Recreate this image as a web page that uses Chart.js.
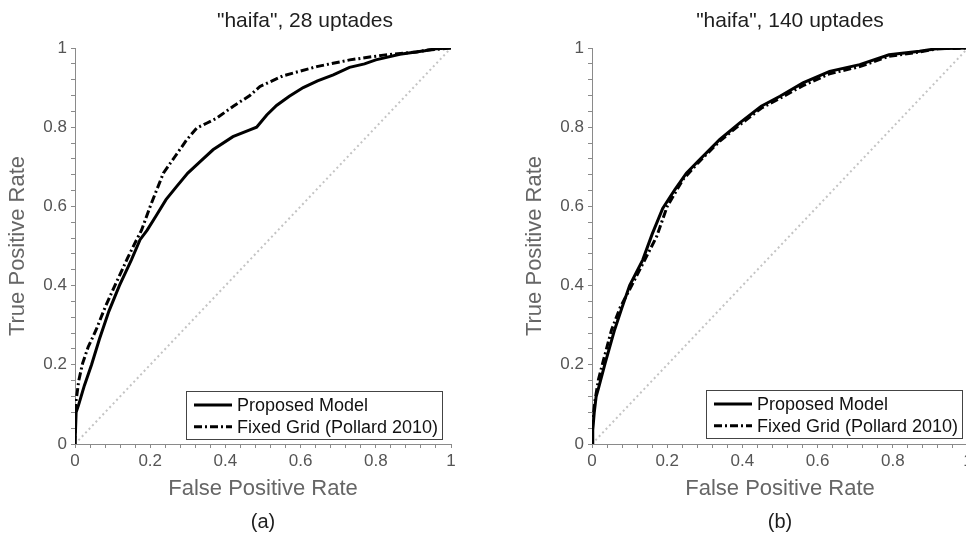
<!DOCTYPE html>
<html>
  <head>
    <title>ROC curves - haifa</title>
    <script src="https://cdn.jsdelivr.net/npm/chart.js"></script>
    <style>
      body {
        margin: 0;
        background: #ffffff;
        overflow: hidden;
      }
      #page {
        position: relative;
        width: 966px;
        height: 535px;
        overflow: hidden;
      }
      .panel {
        position: absolute;
        top: 0;
        width: 483px;
        height: 535px;
      }
    </style>
  </head>
  <body>
    <div id="page">
      <div class="panel" style="left: 0px"><canvas id="leftChart"></canvas></div>
      <div class="panel" style="left: 517px"><canvas id="rightChart"></canvas></div>
    </div>

    <script>
      // (a) 28 updates
      const leftModelFpr = [0, 0.003, 0.01, 0.025, 0.044, 0.065, 0.09, 0.118, 0.15, 0.173, 0.192, 0.215, 0.242, 0.27, 0.30, 0.335, 0.367, 0.42, 0.465, 0.483, 0.51, 0.536, 0.57, 0.607, 0.645, 0.687, 0.73, 0.77, 0.80, 0.864, 0.93, 0.96, 1.0];
      const leftModelTpr = [0, 0.08, 0.10, 0.148, 0.2, 0.265, 0.335, 0.40, 0.465, 0.516, 0.54, 0.575, 0.617, 0.65, 0.684, 0.715, 0.743, 0.776, 0.793, 0.80, 0.831, 0.855, 0.878, 0.90, 0.917, 0.932, 0.951, 0.96, 0.97, 0.984, 0.993, 0.998, 1.0];
      const leftGridFpr = [0, 0, 0.003, 0.01, 0.02, 0.035, 0.056, 0.08, 0.106, 0.14, 0.164, 0.177, 0.2, 0.235, 0.266, 0.297, 0.324, 0.35, 0.377, 0.421, 0.465, 0.492, 0.554, 0.643, 0.731, 0.82, 0.909, 0.94, 1.0];
      const leftGridTpr = [0, 0.053, 0.11, 0.16, 0.203, 0.245, 0.288, 0.345, 0.40, 0.47, 0.516, 0.54, 0.60, 0.684, 0.726, 0.768, 0.798, 0.81, 0.823, 0.853, 0.88, 0.903, 0.93, 0.953, 0.97, 0.982, 0.99, 0.995, 1.0];

      // (b) 140 updates
      const rightModelFpr = [0, 0.002, 0.006, 0.011, 0.017, 0.035, 0.06, 0.08, 0.10, 0.135, 0.16, 0.188, 0.22, 0.251, 0.282, 0.34, 0.393, 0.45, 0.50, 0.561, 0.632, 0.712, 0.79, 0.871, 0.915, 1.0];
      const rightModelTpr = [0, 0.035, 0.08, 0.12, 0.14, 0.204, 0.288, 0.345, 0.40, 0.465, 0.53, 0.595, 0.642, 0.684, 0.714, 0.769, 0.811, 0.853, 0.878, 0.912, 0.941, 0.958, 0.983, 0.992, 0.998, 1.0];
      const rightGridFpr = [0, 0.002, 0.008, 0.017, 0.03, 0.052, 0.075, 0.10, 0.135, 0.172, 0.2, 0.242, 0.282, 0.34, 0.393, 0.45, 0.50, 0.561, 0.632, 0.712, 0.79, 0.871, 0.92, 1.0];
      const rightGridTpr = [0, 0.06, 0.11, 0.162, 0.21, 0.288, 0.345, 0.39, 0.455, 0.524, 0.60, 0.668, 0.71, 0.765, 0.806, 0.848, 0.873, 0.905, 0.935, 0.953, 0.979, 0.99, 0.998, 1.0];

      // chance line
      const chanceFpr = [0, 1];
      const chanceTpr = [0, 1];

      const seriesNames = ["Proposed Model", "Fixed Grid (Pollard 2010)"];
      const panelTitles = ['"haifa", 28 uptades', '"haifa", 140 uptades'];
      const panelCaptions = ["(a)", "(b)"];

      const FONT = "'Liberation Sans', Arial, Helvetica, sans-serif";
      const pts = (xs, ys) => xs.map((x, i) => ({ x: x, y: ys[i] }));

      // title above and caption below the plot
      const panelText = {
        id: "panelText",
        afterDraw(chart, args, o) {
          const { ctx, chartArea } = chart;
          const cx = (chartArea.left + chartArea.right) / 2;
          ctx.save();
          ctx.fillStyle = "#1e1e1e";
          ctx.textAlign = "center";
          ctx.textBaseline = "alphabetic";
          ctx.font = "21px " + FONT;
          ctx.fillText(o.title, cx + o.titleShift, 27);
          ctx.font = "20px " + FONT;
          ctx.fillText(o.caption, cx, 528);
          ctx.restore();
        },
      };

      // boxed legend in the lower right corner
      const boxLegend = {
        id: "boxLegend",
        afterDraw(chart, args, o) {
          const { ctx, chartArea } = chart;
          const w = 256, h = 48;
          const x = chartArea.right - o.right - w;
          const y = chartArea.bottom - o.bottom - h;
          ctx.save();
          ctx.fillStyle = "#ffffff";
          ctx.fillRect(x, y, w, h);
          ctx.strokeStyle = "#444";
          ctx.lineWidth = 1;
          ctx.strokeRect(Math.round(x) + 0.5, Math.round(y) + 0.5, w, h);
          let row = 0;
          chart.data.datasets.forEach((ds) => {
            if (!ds.label) return;
            const ry = y + 14 + row * 21.7;
            ctx.strokeStyle = "#000";
            ctx.lineWidth = 3;
            ctx.setLineDash(ds.borderDash || []);
            ctx.beginPath();
            ctx.moveTo(x + 8, ry);
            ctx.lineTo(x + 46, ry);
            ctx.stroke();
            ctx.setLineDash([]);
            ctx.fillStyle = "#111";
            ctx.font = "18px " + FONT;
            ctx.textAlign = "left";
            ctx.textBaseline = "middle";
            ctx.fillText(ds.label, x + 51, ry + 1);
            row++;
          });
          ctx.restore();
        },
      };

      function tickLabel(v) {
        const k = Math.round(v * 100);
        return k % 20 === 0 ? String(k / 100) : "";
      }

      function axis(titleText, isX) {
        return {
          type: "linear",
          min: 0,
          max: 1,
          afterFit: (s) => {
            if (isX) s.height = 91;
            else s.width = 75;
          },
          ticks: {
            stepSize: 0.04,
            autoSkip: false,
            maxRotation: 0,
            padding: isX ? 3 : 4,
            color: "#555",
            font: { family: FONT, size: 17 },
            callback: tickLabel,
          },
          grid: { drawOnChartArea: false, tickLength: 4, color: "#8a8a8a" },
          border: { color: "#8a8a8a", width: 1 },
          title: {
            display: true,
            text: titleText,
            color: "#666",
            font: { family: FONT, size: 22 },
            padding: isX ? { top: 0, bottom: 33 } : { top: 5, bottom: 0 },
          },
        };
      }

      function makeChart(id, model, grid, title, caption, titleShift, legendPos) {
        return new Chart(document.getElementById(id), {
          type: "scatter",
          data: {
            datasets: [
              {
                label: seriesNames[0],
                data: model,
                showLine: true,
                borderColor: "#000",
                borderWidth: 3,
                pointRadius: 0,
              },
              {
                label: seriesNames[1],
                data: grid,
                showLine: true,
                borderColor: "#000",
                borderWidth: 3,
                borderDash: [8, 3, 2, 3],
                pointRadius: 0,
              },
              {
                label: "",
                data: pts(chanceFpr, chanceTpr),
                showLine: true,
                borderColor: "#c4c4c4",
                borderWidth: 2,
                borderDash: [2, 3],
                pointRadius: 0,
              },
            ],
          },
          options: {
            responsive: true,
            maintainAspectRatio: false,
            animation: false,
            layout: { padding: { top: 48, right: 32, left: 0, bottom: 0 } },
            plugins: {
              legend: { display: false },
              tooltip: { enabled: false },
              panelText: { title: title, caption: caption, titleShift: titleShift },
              boxLegend: legendPos,
            },
            scales: {
              x: axis("False Positive Rate", true),
              y: axis("True Positive Rate", false),
            },
          },
          plugins: [panelText, boxLegend],
        });
      }

      makeChart("leftChart", pts(leftModelFpr, leftModelTpr), pts(leftGridFpr, leftGridTpr),
        panelTitles[0], panelCaptions[0], 42, { right: 9, bottom: 5 });
      makeChart("rightChart", pts(rightModelFpr, rightModelTpr), pts(rightGridFpr, rightGridTpr),
        panelTitles[1], panelCaptions[1], 10, { right: 6, bottom: 6 });
    </script>
  </body>
</html>
